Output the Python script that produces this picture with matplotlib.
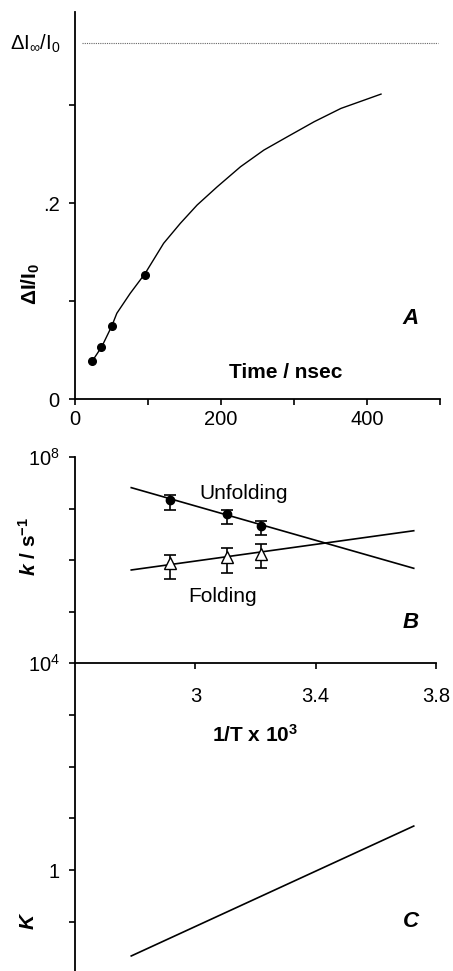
import matplotlib
matplotlib.use("Agg")
import matplotlib.pyplot as plt
import numpy as np

plt.rcParams['font.family'] = ['Liberation Sans', 'DejaVu Sans']
plt.rcParams['mathtext.fontset'] = 'custom'
plt.rcParams['mathtext.rm'] = 'Liberation Sans'
plt.rcParams['mathtext.it'] = 'Liberation Sans:italic'
plt.rcParams['mathtext.bf'] = 'Liberation Sans:bold'
plt.rcParams['mathtext.bfit'] = 'Liberation Sans:italic:bold'

# panel A: fluorescence change vs time
time_pts = [23, 36, 51, 96]
signal_pts = [0.039, 0.053, 0.075, 0.127]
curve_t = [23, 36.7, 50.4, 57.3, 75.6, 96.2, 121.4, 144.3, 167.3, 194.8, 226.8,
           258.8, 291.0, 327.6, 364.3, 396.3, 419.2]
curve_s = [0.038, 0.0534, 0.0745, 0.0875, 0.1078, 0.1283, 0.1589, 0.1793, 0.198,
           0.2166, 0.2371, 0.2541, 0.2677, 0.283, 0.2966, 0.3051, 0.3112]
dI_inf = 0.363

# panel B: Arrhenius plot of rate constants
inv_T = [2.917, 3.105, 3.219]
k_unf = [1.46e7, 7.8e6, 4.6e6]
k_unf_lo = [9.3e6, 5.0e6, 3.05e6]
k_unf_hi = [1.83e7, 9.3e6, 5.7e6]
k_fold = [8.6e5, 1.13e6, 1.31e6]
k_fold_lo = [4.2e5, 5.7e5, 6.9e5]
k_fold_hi = [1.25e6, 1.73e6, 2.02e6]
fit_x = [2.787, 3.726]
unf_fit = [2.54e7, 6.9e5]
fold_fit = [6.4e5, 3.7e6]

# panel C: equilibrium constant
K_fit = [0.022, 7.1]

W, H = 453, 971
fig = plt.figure(figsize=(W / 100, H / 100), dpi=100)

def box(l, r, top, bot):
    return [l / W, 1 - bot / H, (r - l) / W, (bot - top) / H]

tick_fs = 14.5
lab_fs = 15

# ---- A
axA = fig.add_axes(box(75, 440, 12, 399))
axA.plot(curve_t, curve_s, color='k', lw=1.0)
axA.plot(time_pts, signal_pts, 'o', color='k', ms=5.5)
axA.axhline(dI_inf, xmin=0.02, xmax=0.995, color='#666666', lw=0.8, ls=(0, (1, 1)))
axA.set_xlim(0, 500)
axA.set_ylim(0, 0.395)
axA.set_xticks([0, 100, 200, 300, 400, 500])
axA.set_xticklabels(['0', '', '200', '', '400', ''])
axA.set_yticks([0, 0.1, 0.2, 0.3])
axA.set_yticklabels(['0', '', '.2', ''])
axA.text(-0.04, dI_inf, r'ΔI$_{∞}$/I$_0$', transform=axA.get_yaxis_transform(),
         ha='right', va='center', fontsize=tick_fs)
axA.text(-44 / 365, 0.118, r'ΔI/I$_\mathbf{0}$', transform=axA.get_yaxis_transform(),
         rotation=90, fontsize=lab_fs, fontweight='bold', ha='center', va='center')
axA.text(289, 0.027, 'Time / nsec', fontsize=lab_fs, fontweight='bold', ha='center', va='center')
axA.text(460, 0.082, 'A', fontsize=16, fontweight='bold', fontstyle='italic', ha='center', va='center')

# ---- C (drawn under B so B's tick labels stay visible)
axC = fig.add_axes(box(75, 436, 663, 971))
axC.patch.set_visible(False)
axC.set_yscale('log')
axC.plot(fit_x, K_fit, color='k', lw=1.2)
axC.set_xlim(2.6, 3.8)
axC.set_ylim(10 ** -1.948, 1e4)
axC.set_yticks([0.1, 1, 10, 100, 1000])
axC.set_yticklabels(['', '1', '', '', ''])
axC.minorticks_off()
axC.set_xticks([])
axC.spines['bottom'].set_visible(False)
axC.text(3.717, 10 ** -1.0, 'C', fontsize=16, fontweight='bold', fontstyle='italic', ha='center', va='center')
axC.text(-47 / 361, 10 ** -1.0, 'K', transform=axC.get_yaxis_transform(), rotation=90,
         fontsize=lab_fs, fontweight='bold', fontstyle='italic', ha='center', va='center')

# ---- B
axB = fig.add_axes(box(75, 436, 457, 663))
axB.patch.set_visible(False)
axB.set_yscale('log')
axB.plot(fit_x, unf_fit, color='k', lw=1.2)
axB.plot(fit_x, fold_fit, color='k', lw=1.2)
axB.errorbar(inv_T, k_unf,
             yerr=[np.array(k_unf) - np.array(k_unf_lo), np.array(k_unf_hi) - np.array(k_unf)],
             fmt='o', color='k', ms=6, capsize=4.5, elinewidth=1.2, capthick=1.2)
axB.errorbar(inv_T, k_fold,
             yerr=[np.array(k_fold) - np.array(k_fold_lo), np.array(k_fold_hi) - np.array(k_fold)],
             fmt='^', color='k', mfc='white', ms=8.5, capsize=4.5, elinewidth=1.2, capthick=1.2)
axB.set_xlim(2.6, 3.8)
axB.set_ylim(1e4, 1e8)
axB.set_xticks([3.0, 3.4, 3.8])
axB.set_xticklabels(['3', '3.4', '3.8'])
axB.set_yticks([1e4, 1e5, 1e6, 1e7, 1e8])
axB.set_yticklabels([r'10$^4$', '', '', '', r'10$^8$'])
axB.minorticks_off()
axB.text(3.162, 10 ** 7.3, 'Unfolding', fontsize=lab_fs, ha='center', va='center')
axB.text(3.09, 10 ** 5.29, 'Folding', fontsize=lab_fs, ha='center', va='center')
axB.text(3.717, 10 ** 4.78, 'B', fontsize=16, fontweight='bold', fontstyle='italic', ha='center', va='center')
axB.text(-46 / 361, 10 ** 6.27, r'$\mathbfit{k}$ / s$^{\mathbf{-1}}$', transform=axB.get_yaxis_transform(),
         rotation=90, fontsize=lab_fs, fontweight='bold', ha='center', va='center')
axB.text(3.2, 10 ** 2.6, r'1/T x 10$^\mathbf{3}$', fontsize=15, fontweight='bold',
         ha='center', va='center', clip_on=False)

for ax in (axA, axB, axC):
    ax.spines['top'].set_visible(False)
    ax.spines['right'].set_visible(False)
    ax.spines['left'].set_linewidth(1.3)
    ax.spines['bottom'].set_linewidth(1.3)
    ax.tick_params(direction='out', length=4, width=1.2, labelsize=tick_fs, pad=4)
    ax.tick_params(axis='y', pad=7)
axB.tick_params(axis='x', pad=13)

fig.savefig('out.png', dpi=100)
